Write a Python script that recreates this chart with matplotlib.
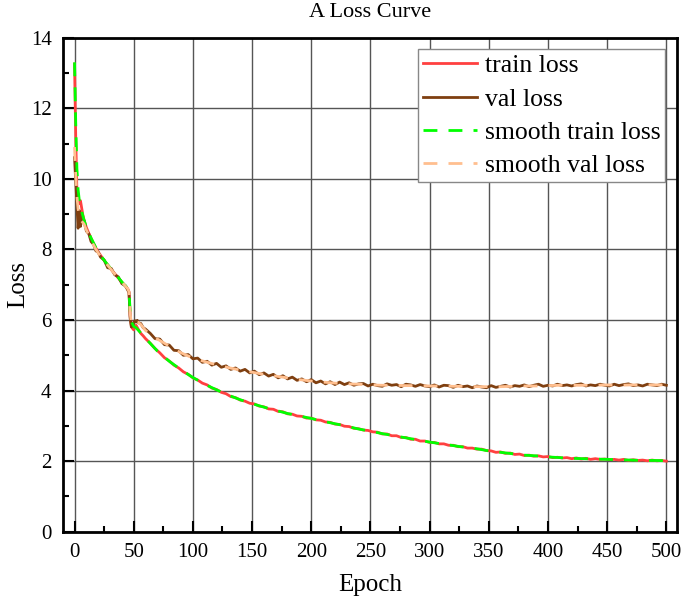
import matplotlib
matplotlib.use('Agg')
import matplotlib.pyplot as plt
from matplotlib.ticker import MultipleLocator

plt.rcParams['font.family'] = ['Liberation Serif', 'DejaVu Serif']

# epochs of the raw curves (dense near the start, then every 4 epochs)
raw_epochs = [0, 1, 2, 3, 4, 5, 6, 7, 8, 10, 12, 14, 16, 18, 20, 22, 25, 28, 31, 34,
              37, 40, 43, 45, 46, 47, 48, 49, 50, 51, 52, 53, 54, 56, 58, 60] + list(range(64, 501, 4))

train_loss = [13.25, 11.2, 9.65, 9.45, 9.30, 9.38, 9.18, 8.98, 8.84, 8.62,
              8.46, 8.31, 8.17, 8.04, 7.93, 7.83, 7.69, 7.56, 7.43, 7.31,
              7.19, 7.07, 6.96, 6.88, 6.80, 6.10, 5.84, 5.76, 5.72, 5.80,
              5.85, 5.79, 5.73, 5.62, 5.55, 5.47,
              5.34, 5.19, 5.07, 4.93, 4.84, 4.72, 4.64, 4.53, 4.46, 4.36,
              4.30, 4.21, 4.16, 4.07, 4.03, 3.95, 3.91, 3.83, 3.80, 3.73,
              3.70, 3.64, 3.62, 3.56, 3.54, 3.48, 3.47, 3.41, 3.40, 3.34,
              3.33, 3.28, 3.27, 3.22, 3.22, 3.17, 3.16, 3.11, 3.10, 3.05,
              3.04, 2.99, 2.98, 2.93, 2.92, 2.88, 2.87, 2.83, 2.82, 2.77,
              2.77, 2.72, 2.72, 2.67, 2.67, 2.62, 2.62, 2.57, 2.57, 2.53,
              2.53, 2.49, 2.49, 2.45, 2.45, 2.41, 2.41, 2.37, 2.37, 2.34,
              2.34, 2.30, 2.29, 2.25, 2.26, 2.22, 2.23, 2.19, 2.20, 2.16,
              2.17, 2.14, 2.15, 2.12, 2.13, 2.10, 2.11, 2.09, 2.10, 2.07,
              2.09, 2.06, 2.08, 2.05, 2.07, 2.05, 2.06, 2.04, 2.05, 2.03,
              2.05, 2.02, 2.04, 2.02, 2.03, 2.01, 2.03, 2.01, 2.02, 2.00]

val_loss = [10.6, 9.95, 9.25, 8.6, 9.1, 8.65, 9.0, 8.75, 8.82, 8.52,
            8.45, 8.22, 8.15, 7.96, 7.92, 7.78, 7.70, 7.48, 7.46, 7.28,
            7.22, 7.03, 6.97, 6.84, 6.78, 6.05, 5.80, 5.86, 5.93, 5.98,
            5.94, 5.99, 5.92, 5.90, 5.78, 5.74,
            5.62, 5.47, 5.46, 5.30, 5.29, 5.14, 5.13, 5.00, 5.02, 4.90,
            4.92, 4.80, 4.83, 4.72, 4.77, 4.66, 4.70, 4.60, 4.64, 4.55,
            4.60, 4.50, 4.55, 4.45, 4.50, 4.41, 4.46, 4.36, 4.42, 4.33,
            4.38, 4.29, 4.33, 4.25, 4.31, 4.22, 4.27, 4.19, 4.25, 4.17,
            4.24,
            4.17, 4.22, 4.15, 4.19, 4.20, 4.13, 4.18, 4.14, 4.12, 4.19,
            4.15, 4.17, 4.11, 4.18, 4.16, 4.12, 4.17, 4.13, 4.11, 4.16,
            4.10, 4.15, 4.14, 4.09, 4.15, 4.11, 4.13, 4.08, 4.13, 4.10,
            4.08, 4.14, 4.09, 4.12, 4.15, 4.10, 4.14, 4.12, 4.16, 4.11,
            4.15, 4.18, 4.12, 4.15, 4.13, 4.18, 4.14, 4.16, 4.13, 4.17,
            4.19, 4.13, 4.16, 4.14, 4.18, 4.15, 4.13, 4.18, 4.14, 4.17,
            4.19, 4.14, 4.16, 4.13, 4.18, 4.16, 4.14, 4.18, 4.15]

# smoothed curves, read at a coarser step
smooth_train_epochs = [0, 1, 2, 3, 4, 5, 6, 8, 10, 14, 18, 22, 26, 30, 34, 38, 42, 45,
                       46, 47, 48, 50, 52, 56, 60] + list(range(70, 501, 10))
smooth_train = [13.3, 11.6, 10.3, 9.7, 9.4, 9.22, 9.08, 8.83, 8.63, 8.32,
                8.05, 7.83, 7.65, 7.48, 7.32, 7.16, 7.00, 6.90, 6.82, 6.25,
                5.95, 5.82, 5.78, 5.63, 5.48,
                5.12, 4.83, 4.59, 4.37,
                4.18, 4.02, 3.87, 3.74, 3.63, 3.53, 3.44, 3.35, 3.28, 3.21,
                3.13, 3.06, 2.99, 2.91, 2.85, 2.78, 2.72, 2.66, 2.60, 2.54,
                2.49, 2.44, 2.39, 2.35, 2.29, 2.25, 2.21, 2.17, 2.15, 2.12,
                2.10, 2.08, 2.07, 2.06, 2.05, 2.04, 2.03, 2.02, 2.02, 2.01]

smooth_val_epochs = [0, 1, 2, 3, 4, 5, 6, 8, 10, 14, 18, 22, 26, 30, 34, 38, 42, 45,
                     46, 47, 48, 50, 52, 54, 56, 60] + list(range(70, 501, 10))
smooth_val = [10.9, 10.1, 9.5, 9.15, 8.95, 8.85, 8.8, 8.72, 8.55, 8.25,
              8.0, 7.80, 7.63, 7.47, 7.30, 7.15, 7.00, 6.88, 6.80, 6.2,
              5.88, 5.90, 5.95, 5.93, 5.87, 5.70,
              5.46, 5.26, 5.07, 4.92,
              4.82, 4.73, 4.65, 4.58, 4.52, 4.46, 4.41, 4.36, 4.31, 4.27,
              4.24, 4.21, 4.19, 4.18, 4.16, 4.15, 4.15, 4.14, 4.14, 4.13,
              4.13, 4.12, 4.12, 4.11, 4.11, 4.11, 4.12, 4.13, 4.13, 4.14,
              4.15, 4.15, 4.15, 4.15, 4.16, 4.15, 4.16, 4.16, 4.16, 4.16]

fig = plt.figure(figsize=(6.83, 6.07), dpi=100)
ax = fig.add_axes([0.0918, 0.124, 0.8994, 0.814])

ax.plot(raw_epochs, train_loss, color='#FF4040', lw=2, label='train loss')
ax.plot(raw_epochs, val_loss, color='#7F3F10', lw=2, label='val loss')
ax.plot(smooth_train_epochs, smooth_train, color='#00FF00', lw=2,
        linestyle=(0, (5, 4)), label='smooth train loss')
ax.plot(smooth_val_epochs, smooth_val, color='#FFBF8F', lw=2,
        linestyle=(0, (5, 4)), label='smooth val loss')

ax.set_xlim(-10, 509)
ax.set_ylim(0, 14)
ax.xaxis.set_major_locator(MultipleLocator(50))
ax.xaxis.set_minor_locator(MultipleLocator(25))
ax.yaxis.set_major_locator(MultipleLocator(2))
ax.yaxis.set_minor_locator(MultipleLocator(1))
ax.tick_params(which='both', direction='in', width=1.5, labelsize=15)
ax.tick_params(which='major', length=8, pad=8)
ax.tick_params(which='minor', length=4)
ax.grid(True, which='major', color='#555555', lw=1)
for s in ax.spines.values():
    s.set_linewidth(2)

ax.set_title('A Loss Curve', fontsize=16, pad=15)
ax.set_xlabel('Epoch', fontsize=18, labelpad=9)
ax.set_ylabel('Loss', fontsize=18, labelpad=1)

leg = ax.legend(loc='upper right', fontsize=18.5, fancybox=False, framealpha=1,
                edgecolor='#888888', handlelength=2.1, labelspacing=0.4,
                borderpad=0.2, handletextpad=0.3, borderaxespad=0.45)
leg.get_frame().set_linewidth(1)

fig.savefig('out.png', dpi=100)
